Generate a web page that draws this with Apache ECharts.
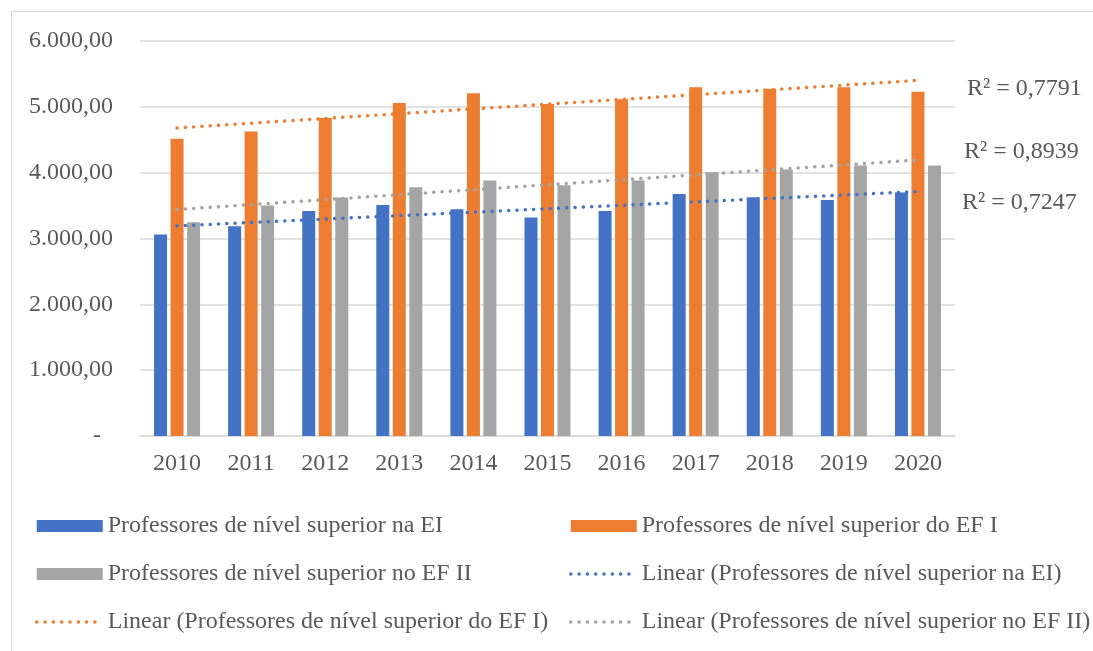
<!DOCTYPE html>
<html>
<head>
<meta charset="utf-8">
<script src="https://cdn.jsdelivr.net/npm/echarts@6/dist/echarts.min.js"></script>
<style>
  html, body { margin: 0; padding: 0; background: #fff; }
  #chart { width: 1093px; height: 651px; }
</style>
</head>
<body>
<div id="chart"></div>
<script>
// dados
const years = ['2010', '2011', '2012', '2013', '2014', '2015', '2016', '2017', '2018', '2019', '2020'];
const profEI = [3061, 3187, 3419, 3510, 3445, 3318, 3419, 3677, 3627, 3586, 3698];
const profEF1 = [4517, 4624, 4830, 5058, 5205, 5043, 5114, 5296, 5276, 5296, 5231];
const profEF2 = [3247, 3501, 3622, 3778, 3880, 3809, 3880, 4006, 4047, 4108, 4108];
// linhas de tendência: início (2010) e fim (2020)
const trendEI = [3191, 3713];
const trendEF1 = [4679, 5402];
const trendEF2 = [3440, 4193];
const r2EI = 'R² = 0,7247';
const r2EF1 = 'R² = 0,7791';
const r2EF2 = 'R² = 0,8939';

const nameEI = 'Professores de nível superior na EI';
const nameEF1 = 'Professores de nível superior do EF I';
const nameEF2 = 'Professores de nível superior no EF II';
const linEI = 'Linear (Professores de nível superior na EI)';
const linEF1 = 'Linear (Professores de nível superior do EF I)';
const linEF2 = 'Linear (Professores de nível superior no EF II)';

const FONT = '"Liberation Serif", "Times New Roman", serif';
const TXT = '#595959';
const BLUE = '#4472c4', ORANGE = '#ed7d31', GRAY = '#a5a5a5';
const DOTS = [0.1, 8.2];

function fmtNum (v) {
  if (v === 0) return '-\u00a0\u00a0';
  let s = Math.round(v).toString().replace(/\B(?=(\d{3})+(?!\d))/g, '.');
  return s + ',00';
}

function trend (name, color, vals, label, dist, dy) {
  return {
    name: name,
    type: 'line',
    data: [[years[0], vals[0]], [years[years.length - 1], vals[1]]],
    symbol: 'none',
    z: 5,
    lineStyle: { color: color, width: 3.5, type: DOTS, cap: 'round' },
    itemStyle: { color: color },
    endLabel: {
      show: true,
      formatter: label,
      distance: dist,
      offset: [0, dy],
      color: TXT,
      fontFamily: FONT,
      fontSize: 24
    },
    emphasis: { disabled: true }
  };
}

// item de legenda de linha sem o círculo no meio
function lineItem (name, color) {
  return {
    name: name,
    itemStyle: { opacity: 0 },
    lineStyle: { color: color, width: 3.5, type: DOTS, cap: 'round' }
  };
}

const legendBase = {
  orient: 'vertical',
  top: 514,
  padding: 0,
  itemWidth: 66,
  itemHeight: 12,
  itemGap: 24,
  textStyle: { color: TXT, fontFamily: FONT, fontSize: 24, lineHeight: 24 }
};

const myChart = echarts.init(document.getElementById('chart'));
myChart.setOption({
  animation: false,
  backgroundColor: '#fff',
  graphic: [{
    type: 'rect',
    shape: { x: 11.5, y: 11.5, width: 1200, height: 800 },
    style: { fill: 'none', stroke: '#d9d9d9', lineWidth: 1 },
    silent: true
  }],
  legend: [
    Object.assign({}, legendBase, {
      left: 35,
      data: [{ name: nameEI, icon: 'rect' }, { name: nameEF2, icon: 'rect' }, lineItem(linEF1, ORANGE)]
    }),
    Object.assign({}, legendBase, {
      left: 569,
      data: [{ name: nameEF1, icon: 'rect' }, lineItem(linEI, BLUE), lineItem(linEF2, GRAY)]
    })
  ],
  grid: { left: 140, right: 138, top: 41, bottom: 215, containLabel: false },
  xAxis: {
    type: 'category',
    data: years,
    axisTick: { show: false },
    axisLine: { lineStyle: { color: '#d9d9d9', width: 1.5 } },
    axisLabel: { color: TXT, fontFamily: FONT, fontSize: 24, margin: 16 }
  },
  yAxis: {
    type: 'value',
    min: 0,
    max: 6000,
    interval: 1000,
    axisLine: { show: false },
    axisTick: { show: false },
    axisLabel: { color: TXT, fontFamily: FONT, fontSize: 24, margin: 27, formatter: fmtNum },
    splitLine: { lineStyle: { color: '#d9d9d9', width: 1.5 } }
  },
  series: [
    { name: nameEI, type: 'bar', data: profEI, barWidth: 13, barGap: '27%', itemStyle: { color: BLUE } },
    { name: nameEF1, type: 'bar', data: profEF1, barWidth: 13, barGap: '27%', itemStyle: { color: ORANGE } },
    { name: nameEF2, type: 'bar', data: profEF2, barWidth: 13, barGap: '27%', itemStyle: { color: GRAY } },
    trend(linEI, BLUE, trendEI, r2EI, 44, 11),
    trend(linEF1, ORANGE, trendEF1, r2EF1, 49, 8),
    trend(linEF2, GRAY, trendEF2, r2EF2, 46, -8)
  ]
});
</script>
</body>
</html>
